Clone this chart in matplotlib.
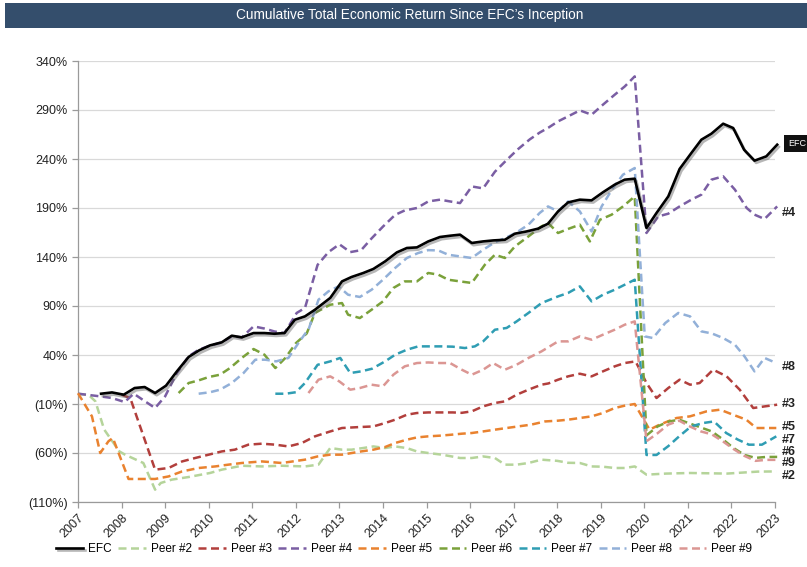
import matplotlib
matplotlib.use("Agg")
import matplotlib.pyplot as plt
import matplotlib.patheffects as pe
from matplotlib.patches import Rectangle

# ---------------- data ----------------
title = "Cumulative Total Economic Return Since EFC\u2019s Inception"
year_ticks = list(range(2007, 2024))
y_ticks = [-110, -60, -10, 40, 90, 140, 190, 240, 290, 340]

efc_x = [2007.53, 2007.78, 2008.05, 2008.3, 2008.53, 2008.77, 2009.02, 2009.27, 2009.54, 2009.78,
         2010.03, 2010.3, 2010.53, 2010.76, 2011.03, 2011.28, 2011.51, 2011.74, 2011.98, 2012.21,
         2012.44, 2012.79, 2013.06, 2013.28, 2013.55, 2013.78, 2014.05, 2014.32, 2014.55, 2014.78,
         2015.04, 2015.31, 2015.54, 2015.77, 2016.04, 2016.3, 2016.53, 2016.8, 2017.03, 2017.3,
         2017.56, 2017.79, 2018.02, 2018.25, 2018.52, 2018.79, 2019.05, 2019.32, 2019.55, 2019.78,
         2020.05, 2020.28, 2020.55, 2020.81, 2021.08, 2021.31, 2021.54, 2021.81, 2022.04, 2022.29,
         2022.53, 2022.8, 2023.05]
efc_y = [0.5, 1.8, -0.5, 6.3, 7.3, 1.2, 8.7, 23.3, 38, 44.7,
         49.8, 52.9, 59.7, 58, 62.4, 62.4, 61.7, 62.4, 76, 79.4,
         86.2, 98.2, 115.1, 119.6, 123.7, 127.8, 135.5, 144.7, 149.2, 149.8,
         155.9, 160.4, 161.7, 162.8, 154.3, 155.9, 156.9, 157.6, 163.8, 166.1,
         168.9, 174, 186.5, 195.7, 198.5, 197.8, 206, 213.8, 218.9, 219.9,
         169.6, 184.9, 201.8, 229.8, 246.1, 259.7, 265.8, 276, 271.6, 249.5,
         238.3, 242.7, 254.6]

peer2_x = [2007.0, 2007.25, 2007.4, 2007.6, 2007.95, 2008.08, 2008.5, 2008.77, 2008.9, 2009.15,
           2009.54, 2010.03, 2010.3, 2010.76, 2011.22, 2011.68, 2012.21, 2012.52, 2012.79, 2013.06,
           2013.28, 2013.55, 2013.78, 2014.05, 2014.28, 2014.55, 2014.78, 2015.04, 2015.35, 2015.58,
           2015.77, 2016.04, 2016.3, 2016.57, 2016.8, 2017.07, 2017.34, 2017.64, 2018.0, 2018.25,
           2018.52, 2018.79, 2019.05, 2019.32, 2019.55, 2019.78, 2020.05, 2020.5, 2021.05, 2021.9,
           2022.6, 2023.03]
peer2_y = [0.5, -1, -7.3, -36, -58.4, -61.7, -70.2, -97.4, -90.6, -87.2,
           -84.5, -80.4, -77, -73, -73.7, -73, -73.7, -71.9, -54.9, -56.6,
           -56.6, -54.9, -53.3, -54.9, -53.3, -55, -58.4, -60, -61.7, -63.5,
           -65.1, -65.1, -63.5, -65.1, -71.9, -71.9, -70.2, -66.8, -68, -70,
           -70.2, -73.7, -74, -75.3, -75.3, -73.7, -82.1, -81, -80.4, -81,
           -79, -78.8]

peer3_x = [2008.0, 2008.2, 2008.77, 2009.08, 2009.39, 2009.69, 2010.0, 2010.3, 2010.6, 2010.91,
           2011.22, 2011.53, 2011.83, 2012.14, 2012.44, 2012.79, 2013.06, 2013.47, 2013.78, 2014.05,
           2014.28, 2014.55, 2014.78, 2015.04, 2015.31, 2015.6, 2015.81, 2016.04, 2016.3, 2016.57,
           2016.8, 2017.07, 2017.34, 2017.64, 2017.8, 2018.02, 2018.25, 2018.52, 2018.79, 2019.05,
           2019.32, 2019.55, 2019.8, 2020.05, 2020.28, 2020.55, 2020.81, 2021.05, 2021.27, 2021.58,
           2021.89, 2022.19, 2022.5, 2022.77, 2023.05]
peer3_y = [-0.5, -4, -77, -75.3, -68.6, -65.1, -61.7, -58.4, -56.6, -51.5,
           -50.5, -51.5, -53.3, -49.8, -43, -38, -34.5, -33.5, -32.9, -29.4,
           -26, -20.9, -19.2, -18.6, -18.6, -18.6, -19, -17.5, -12.4, -9,
           -7.3, -0.5, 4.6, 9.7, 11, 14.8, 18.2, 20.9, 18.2, 23.3,
           28.4, 31.8, 33.5, 11.4, -3.9, 6.3, 14.8, 9.7, 11.4, 25,
           18.2, 4.6, -14.1, -12.4, -10.7]

peer4_x = [2007.0, 2007.51, 2007.78, 2008.07, 2008.28, 2008.54, 2008.77, 2009.0, 2009.27, 2009.54,
           2009.77, 2010.03, 2010.3, 2010.53, 2010.76, 2011.03, 2011.28, 2011.51, 2011.74, 2012.02,
           2012.21, 2012.5, 2012.75, 2013.0, 2013.25, 2013.5, 2013.74, 2014.0, 2014.28, 2014.5,
           2014.78, 2015.04, 2015.31, 2015.54, 2015.77, 2016.04, 2016.3, 2016.57, 2016.84, 2017.1,
           2017.37, 2017.6, 2017.8, 2018.02, 2018.25, 2018.52, 2018.79, 2019.05, 2019.32, 2019.55,
           2019.78, 2020.05, 2020.32, 2020.55, 2020.81, 2021.08, 2021.31, 2021.54, 2021.81, 2022.08,
           2022.35, 2022.53, 2022.76, 2023.05]
peer4_y = [0.5, -2.2, -3.9, -8, 0.5, -7.3, -14.1, -2.2, 21.6, 38.6,
           45.4, 49.5, 52.9, 59, 58, 69.2, 67, 64, 62.4, 82.9,
           88, 132, 145, 153, 145, 147, 159, 171, 183, 187.5,
           190, 196.7, 198.5, 196.7, 195, 212, 210, 227, 239, 250,
           260, 267, 272, 278.4, 283.5, 289.6, 285.2, 295.4, 305.6, 314,
           324.3, 164.5, 181.4, 184.2, 191.6, 198.5, 203.6, 218.9, 222.3, 208.7,
           190, 183.2, 178.8, 191.6]

peer5_x = [2007.0, 2007.32, 2007.51, 2007.7, 2007.8, 2008.16, 2008.5, 2008.77, 2009.08, 2009.39,
           2009.77, 2010.15, 2010.45, 2010.76, 2011.22, 2011.68, 2012.21, 2012.5, 2012.79, 2013.06,
           2013.5, 2013.78, 2014.05, 2014.28, 2014.55, 2014.78, 2015.04, 2015.31, 2015.58, 2015.81,
           2016.04, 2016.3, 2016.57, 2016.84, 2017.1, 2017.4, 2017.72, 2018.02, 2018.25, 2018.52,
           2018.79, 2019.05, 2019.32, 2019.55, 2019.78, 2020.12, 2020.35, 2020.74, 2021.05, 2021.43,
           2021.74, 2022.04, 2022.34, 2022.57, 2023.03]
peer5_y = [1, -22.6, -60, -48, -44.7, -86.5, -86.5, -86.5, -83.9, -78.8,
           -75.3, -73.7, -71.9, -70.2, -68.6, -70.2, -66.8, -63.5, -61.7, -61.7,
           -58.4, -56.6, -53.9, -49.8, -46.4, -44.1, -43, -42.3, -41.3, -40.3,
           -39.6, -38, -36.2, -34.5, -32.9, -31.1, -27.8, -27, -26, -24.3,
           -22.6, -19.2, -14.1, -11.7, -10, -36.2, -31.1, -24.3, -22.6, -17.5,
           -15.8, -21, -26, -34.5, -34.5]

peer6_x = [2009.31, 2009.54, 2009.77, 2010.0, 2010.26, 2010.49, 2010.76, 2011.03, 2011.28, 2011.53,
           2011.76, 2012.0, 2012.25, 2012.44, 2012.79, 2013.06, 2013.2, 2013.47, 2013.74, 2014.0,
           2014.24, 2014.5, 2014.78, 2015.04, 2015.27, 2015.5, 2015.77, 2016.04, 2016.34, 2016.57,
           2016.8, 2017.03, 2017.34, 2017.64, 2017.79, 2018.02, 2018.25, 2018.52, 2018.75, 2018.98,
           2019.25, 2019.51, 2019.78, 2020.05, 2020.3, 2020.55, 2020.8, 2021.05, 2021.3, 2021.55,
           2021.8, 2022.05, 2022.3, 2022.55, 2022.8, 2023.05]
peer6_y = [1.2, 11.4, 14.1, 17.5, 19.9, 26.7, 37, 46.1, 40.3, 26.7,
           37, 52, 62, 83, 91.3, 93, 81.1, 77.7, 86.2, 94.7,
           108.4, 115.1, 115.1, 123.7, 122, 116.8, 115.1, 113.5, 132.1, 142.3,
           139, 150.8, 161, 171.2, 174.7, 164.5, 168.6, 173, 155.9, 178,
           183.2, 191.6, 201.8, -42, -33, -28, -26, -30, -34, -38,
           -46, -55, -62, -65, -64, -64]

peer7_x = [2011.53, 2011.77, 2012.0, 2012.21, 2012.5, 2012.79, 2013.02, 2013.25, 2013.5, 2013.75,
           2014.05, 2014.28, 2014.55, 2014.81, 2015.07, 2015.34, 2015.6, 2015.88, 2016.11, 2016.3,
           2016.57, 2016.84, 2017.07, 2017.34, 2017.64, 2018.02, 2018.25, 2018.52, 2018.79, 2019.05,
           2019.32, 2019.55, 2019.78, 2020.05, 2020.28, 2020.55, 2020.8, 2021.07, 2021.35, 2021.6,
           2021.88, 2022.15, 2022.4, 2022.7, 2023.03]
peer7_y = [0.5, 0.5, 2, 11.4, 30, 33.5, 37, 21.6, 23.3, 26,
           33.5, 40.3, 45.4, 48.8, 48.8, 48.8, 48.5, 47.1, 48.8, 53.9,
           65.8, 67.6, 74.3, 82.9, 93, 99.8, 103.3, 110, 94.7, 101.5,
           106.6, 111.7, 116.8, -62, -62, -53, -43, -33, -29.4, -27.8,
           -39.6, -46.4, -51.5, -51.5, -43]

peer8_x = [2009.77, 2010.03, 2010.26, 2010.53, 2010.8, 2011.07, 2011.3, 2011.55, 2011.83, 2012.06,
           2012.3, 2012.52, 2012.75, 2012.98, 2013.2, 2013.47, 2013.74, 2014.0, 2014.28, 2014.55,
           2014.81, 2015.04, 2015.27, 2015.5, 2015.77, 2016.04, 2016.3, 2016.57, 2016.84, 2017.07,
           2017.34, 2017.6, 2017.79, 2018.02, 2018.25, 2018.52, 2018.79, 2019.02, 2019.28, 2019.51,
           2019.78, 2020.01, 2020.2, 2020.48, 2020.78, 2021.05, 2021.31, 2021.55, 2021.81, 2022.08,
           2022.3, 2022.53, 2022.76, 2023.03]
peer8_y = [0.5, 2, 4.6, 11.4, 21.6, 35.2, 35.2, 33.5, 37, 52.2,
           67, 96.4, 105, 110, 101.5, 99.2, 106.6, 116.8, 128.8, 139,
           144.1, 147, 146.7, 142.3, 140.6, 139, 147.4, 155, 160, 165.1,
           173, 185, 191.6, 186.5, 196.7, 186.5, 166.1, 191.6, 210.4, 224,
           230.8, 59, 57.3, 72.6, 82.9, 79.4, 64.1, 62, 57.3, 50.5,
           38.6, 23.3, 37, 31.8]

peer9_x = [2012.29, 2012.52, 2012.79, 2013.0, 2013.25, 2013.47, 2013.74, 2014.0, 2014.24, 2014.5,
           2014.78, 2015.04, 2015.31, 2015.54, 2015.81, 2016.04, 2016.3, 2016.53, 2016.8, 2017.07,
           2017.34, 2017.64, 2018.02, 2018.25, 2018.52, 2018.79, 2019.05, 2019.32, 2019.55, 2019.78,
           2020.05, 2020.3, 2020.55, 2020.8, 2021.05, 2021.3, 2021.55, 2021.8, 2022.05, 2022.3,
           2022.55, 2022.8, 2023.05]
peer9_y = [1.2, 14.8, 18.2, 13, 4.6, 6.3, 9.7, 8, 19.9, 28.4,
           31.8, 32.4, 31.8, 31.8, 25, 19.9, 25, 31.8, 25, 30.1,
           37, 43.7, 53.9, 53.9, 59, 55.6, 60.7, 65.8, 70.9, 74.3,
           -48, -40, -31, -27, -33, -38, -41, -48, -56, -63,
           -68, -67, -67]

series_names = ["EFC", "Peer #2", "Peer #3", "Peer #4", "Peer #5",
                "Peer #6", "Peer #7", "Peer #8", "Peer #9"]
end_labels = ["#4", "#8", "#3", "#5", "#7", "#6", "#9", "#2"]

# ---------------- styling ----------------
colors = {
    "EFC": "#000000",
    "Peer #2": "#B5D49A",
    "Peer #3": "#B23F3C",
    "Peer #4": "#7A5EA3",
    "Peer #5": "#E9822F",
    "Peer #6": "#7AA13A",
    "Peer #7": "#2F9DB3",
    "Peer #8": "#92B0D8",
    "Peer #9": "#DB9693",
}
label_pos = {"#4": 185.2, "#8": 28.1, "#3": -9.7, "#5": -33.2,
             "#7": -46.4, "#6": -58.7, "#9": -69.9, "#2": -83.2}

plt.rcParams["font.family"] = ["Liberation Sans", "DejaVu Sans"]

fig = plt.figure(figsize=(8.07, 5.67), dpi=100)
ax = fig.add_axes([78 / 807, 1 - 502 / 567, (775 - 78) / 807, (502 - 61) / 567])

# title banner
fig.patches.append(Rectangle((5 / 807, 1 - 28 / 567), 1 - 5 / 807, 25 / 567,
                             transform=fig.transFigure, facecolor="#344E6C",
                             edgecolor="none", zorder=0))
fig.text(410 / 807, 1 - 15.5 / 567, title, color="white", fontsize=9.8,
         ha="center", va="center")

data = [
    ("Peer #2", peer2_x, peer2_y),
    ("Peer #3", peer3_x, peer3_y),
    ("Peer #4", peer4_x, peer4_y),
    ("Peer #5", peer5_x, peer5_y),
    ("Peer #6", peer6_x, peer6_y),
    ("Peer #7", peer7_x, peer7_y),
    ("Peer #8", peer8_x, peer8_y),
    ("Peer #9", peer9_x, peer9_y),
]

handles = {}
for name, xs, ys in data:
    ln, = ax.plot(xs, ys, color=colors[name], lw=1.8, dashes=(3.2, 1.8),
                  solid_capstyle="butt", dash_capstyle="butt", clip_on=False, zorder=3)
    handles[name] = ln

ln, = ax.plot(efc_x, efc_y, color="black", lw=1.9, clip_on=False, zorder=5,
              solid_joinstyle="round",
              path_effects=[pe.SimpleLineShadow(offset=(1.2, -1.6), shadow_color="#606060", alpha=0.45),
                            pe.Normal()])
handles["EFC"] = ln

ax.set_xlim(2007, 2023)
ax.set_ylim(-110, 340)
ax.set_yticks(y_ticks)
ax.set_yticklabels([f"({abs(v)}%)" if v < 0 else f"{v}%" for v in y_ticks])
ax.set_xticks(year_ticks)
ax.set_xticklabels([str(y) for y in year_ticks], rotation=45, ha="right",
                   rotation_mode="anchor")
ax.grid(axis="y", color="#D9D9D9", lw=0.9)
ax.set_axisbelow(True)
for s in ["top", "right"]:
    ax.spines[s].set_visible(False)
for s in ["left", "bottom"]:
    ax.spines[s].set_color("#9A9A9A")
    ax.spines[s].set_linewidth(0.9)
ax.tick_params(axis="both", colors="#9A9A9A", length=4, width=0.9, labelcolor="#222222",
               labelsize=9)
ax.tick_params(axis="x", pad=3)

for lab in end_labels:
    ax.annotate(lab, xy=(1, label_pos[lab]), xycoords=("axes fraction", "data"),
                xytext=(5, 0), textcoords="offset points", va="center", ha="left",
                fontsize=9, color="#222222", fontweight="bold", annotation_clip=False)

ax.annotate("EFC", xy=(1, 255.6), xycoords=("axes fraction", "data"),
            xytext=(9.5, 0), textcoords="offset points", va="center", ha="left",
            fontsize=6.5, color="white", annotation_clip=False,
            bbox=dict(boxstyle="square,pad=0.45", facecolor="#111111", edgecolor="none"))

fig.legend([handles[n] for n in series_names], series_names, loc="center",
           bbox_to_anchor=(404 / 807, 1 - 549 / 567), ncol=9, frameon=False,
           fontsize=8.5, handlelength=2.3, handletextpad=0.45, columnspacing=0.55)

fig.savefig("out.png", dpi=100)
